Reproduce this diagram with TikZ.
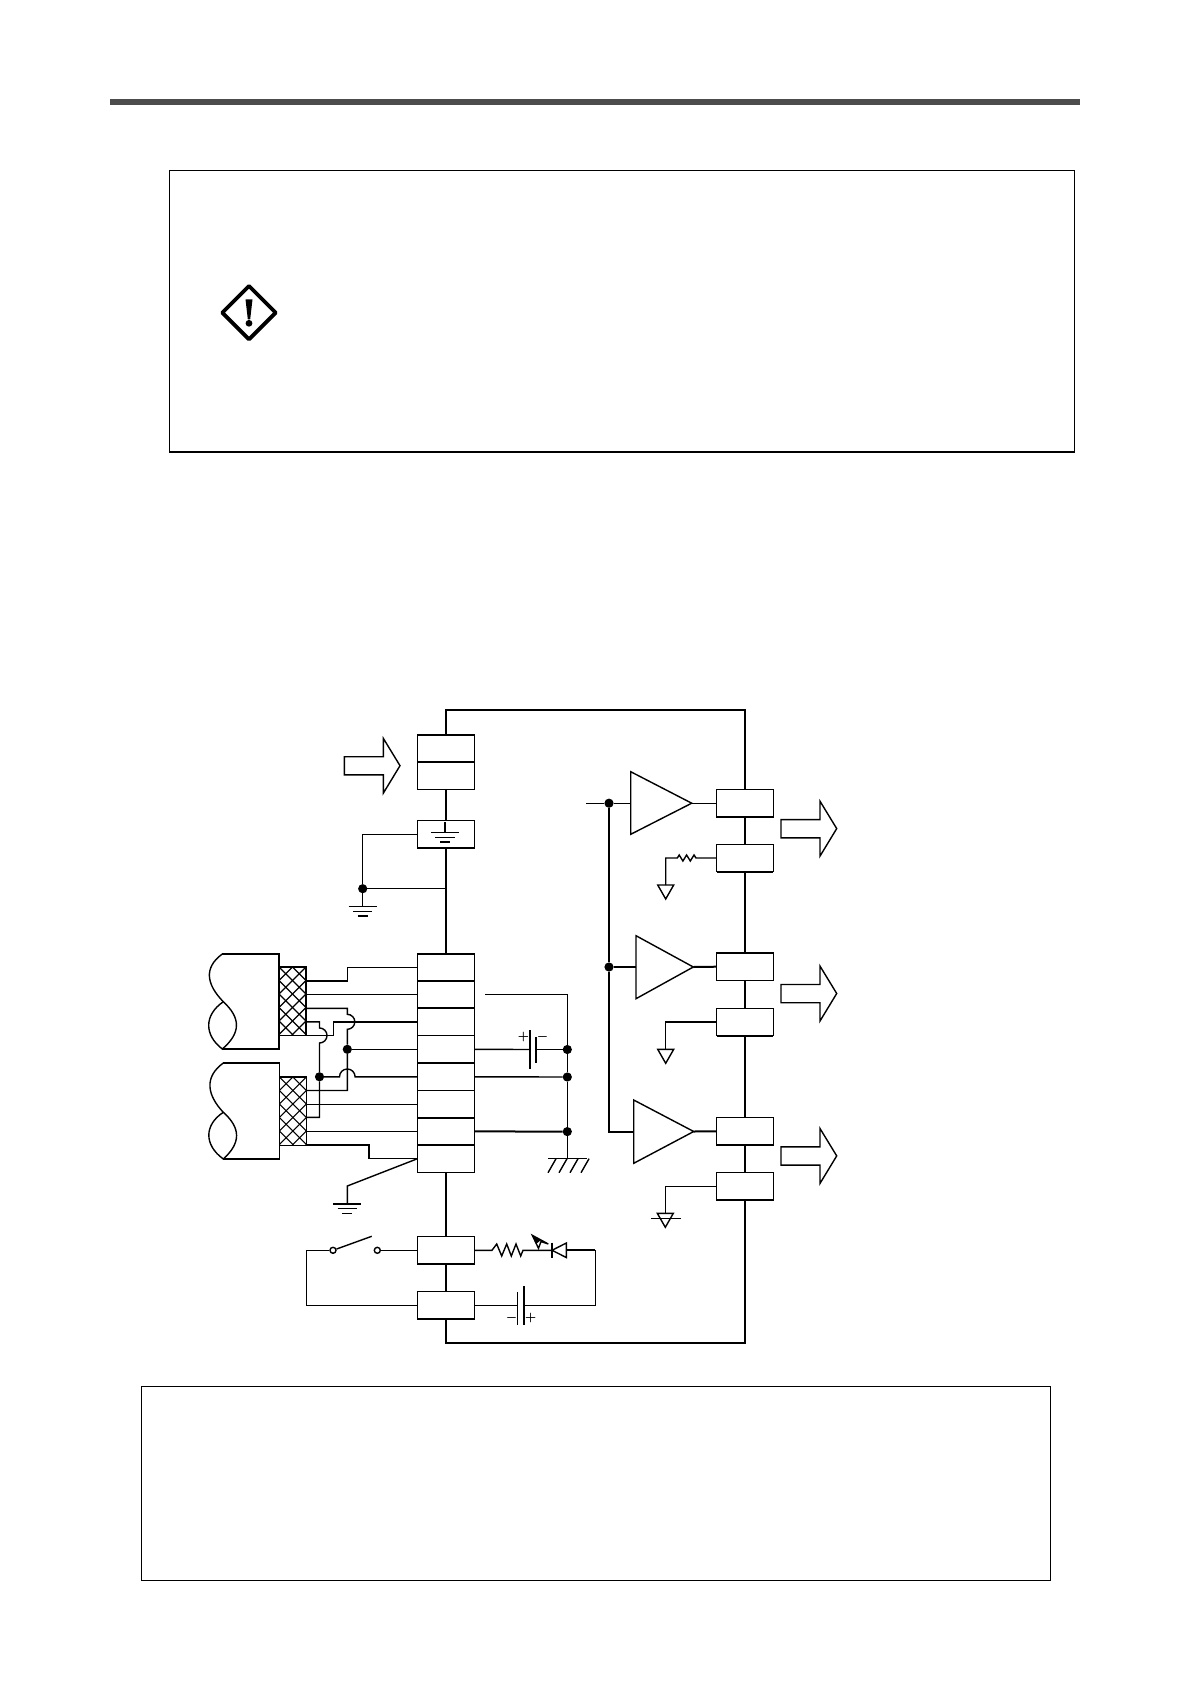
\documentclass[tikz,border=0pt]{standalone}
\tikzset{
	wire/.style={line width=0.7pt},
	bus/.style={line width=1pt},
	tbox/.style={draw,line width=0.7pt,minimum width=28.3pt,minimum height=13.7pt,inner sep=0pt,outer sep=0pt},
	dot/.style={circle,fill=black,inner sep=0pt,outer sep=0pt,minimum size=4.6pt},
	sign/.style={inner sep=0pt,font=\fontsize{4}{4}\selectfont\boldmath},
	fatarrow/.pic={
		\draw[wire] (-55.7,-9) -- (-16.7,-9) -- (-16.7,-27.4) -- (0,0) -- (-16.7,27.5) -- (-16.7,9.2) -- (-55.7,9.2) -- cycle;
	},
	gndbars/.pic={
		\draw[wire] (-14,0) -- (14,0);
		\draw[wire] (-9.7,4.6) -- (9.7,4.6);
		\draw[wire] (-5,9.3) -- (5,9.3);
	},
	gndtri/.pic={
		\draw[wire] (-8,0) -- (8,0) -- (0,14) -- cycle;
	},
	braid/.pic={
		\draw[wire] (0,0) rectangle (27,68.3);
		\begin{scope}
			\clip (0,0) rectangle (27,68.3);
			\foreach \k in {-6,...,2} {
				\draw[line width=0.55pt] (13.5*\k,0) -- ++(68.3,68.3);
				\draw[line width=0.55pt] (27-13.5*\k,0) -- ++(-68.3,68.3);
			}
		\end{scope}
	},
}
\begin{document}
\begin{tikzpicture}[x=0.5pt,y=-0.5pt]
\useasboundingbox (0,0) rectangle (1190,1684);
%========================================
% PAGE: header bar, note frames
%========================================
\fill[black!70] (110,99) rectangle (1080,105);
\draw[wire] (169.3,170.3) rectangle (1074.7,452);
\draw[wire] (141.3,1386.3) rectangle (1050.3,1580.7);
% Warning sign
\draw[line width=1.9pt,line join=round] (249,286) -- (275.7,312.7) -- (249,339.4) -- (222.3,312.7) -- cycle;
\fill (245.5,299.3) -- (252.5,299.3) -- (250.2,319.3) -- (247.8,319.3) -- cycle;
\fill (249,323.3) circle (1.7pt);

%========================================
% LEFT COLUMN: terminals on the bus
%========================================
\node[tbox] (tt1) at (446,748.8) {};
\node[tbox] (tt2) at (446,775.8) {};
\node[tbox] (tg) at (446,834.2) {};
\foreach \i/\y in {1/967.5,2/994.4,3/1021.8,4/1049.3,5/1076.8,6/1104.2,7/1131.4,8/1158.6}
	\node[tbox] (tc\i) at (446,\y) {};
\node[tbox] (tb1) at (446,1250.3) {};
\node[tbox] (tb2) at (446,1305.2) {};
%========================================
% RIGHT COLUMN: terminals on the bus
%========================================
\foreach \i/\y in {1/803.2,2/858,3/966.7,4/1022,5/1131.3,6/1186.2}
	\node[tbox] (to\i) at (745,\y) {};
% Heavier lower edges
\foreach \n in {tg,tc1,tc3,tb2,to1,to2,to3,to4,to6}
	\draw[line width=0.9pt] (\n.south west) -- (\n.south east);

% Bus
\draw[bus] (tt1.north) -- (446,710) -- (745,710) -- (to1.north);
\draw[bus] (tt2.south) -- (tg.north);
\draw[bus] (tg.south) -- (tc1.north);
\draw[bus] (tc8.south) -- (tb1.north);
\draw[bus] (tb1.south) -- (tb2.north);
\draw[bus] (tb2.south) -- (446,1343) -- (745,1343) -- (to6.south);
\draw[bus] (to1.south) -- (to2.north);
\draw[bus] (to2.south) -- (to3.north);
\draw[bus] (to3.south) -- (to4.north);
\draw[bus] (to4.south) -- (to5.north);
\draw[bus] (to5.south) -- (to6.north);

% Fat arrows
\pic at (400,765.7) {fatarrow};
\pic at (836.7,828.6) {fatarrow};
\pic at (836.7,993.5) {fatarrow};
\pic at (836.7,1155.9) {fatarrow};

% Ground on the bus
\coordinate (gs1) at (445,822);
\coordinate (gs2) at (445,832.7);
\draw[wire] (gs1) -- (gs2);
\pic at (gs2) {gndbars};
\node[dot] (d0) at (362.7,888.7) {};
\coordinate (g1) at (362.7,906.7);
\draw[wire] (tg.west) -| (d0);
\draw[wire] (d0) -- (d0 -| tg);
\draw[wire] (d0) -- (g1);
\pic at (g1) {gndbars};

%========================================
% CABLES: two shielded pairs
%========================================
\draw[wire] (222.3,954) -- (279,954) -- (279,1049) -- (222.3,1049);
\draw[wire] (222.3,954) .. controls (203,968) and (207,985) .. (223.3,1001.7)
	.. controls (241,1018) and (241,1033) .. (222.3,1049);
\draw[wire] (223.3,1001.7) .. controls (204,1015) and (204,1035) .. (222.3,1049);
\draw[wire] (223.3,1063) -- (279.3,1063) -- (279.3,1159) -- (223.3,1159);
\draw[wire] (223.3,1063) .. controls (204,1077) and (207,1095) .. (223.3,1112.3)
	.. controls (241,1128) and (241,1143) .. (223.3,1159);
\draw[wire] (223.3,1112.3) .. controls (204,1125) and (204,1145) .. (223.3,1159);
\pic at (279,967) {braid};
\pic at (279.3,1077) {braid};

% Ends of the conductors at the braid
\coordinate (wa1) at (306,981);
\coordinate (wa2) at (306,994.4);
\coordinate (wa3) at (306,1008.3);
\coordinate (wa4) at (306,1021.8);
\coordinate (wa5) at (306,1035.3);
\coordinate (wb1) at (306.7,1090.5);
\coordinate (wb2) at (306.7,1104.2);
\coordinate (wb3) at (306.7,1117.4);
\coordinate (wb4) at (306.7,1131.4);
\coordinate (wb5) at (306.7,1145);
\node[dot] (dj1) at (347.3,1049.3) {};
\node[dot] (dj2) at (319.5,1076.8) {};

\draw[wire] (wa1) -- (347.3,981) -- (347.3,967.5) -- (tc1.west);
\draw[wire] (wa2) -- (tc2.west);
\draw[wire] (wa3) -- (347.3,1008.3) -- (347.3,1014.3) arc[start angle=90,end angle=-90,radius=3.75pt] -- (dj1) -- (347.3,1090.5) -- (wb1);
\draw[wire] (wa4) -- (319.5,1021.8) -- (319.5,1028) arc[start angle=90,end angle=-90,radius=3.75pt] -- (dj2) -- (319.5,1117.4) -- (wb3);
\draw[wire] (wa5) -- (333.3,1035.3) -- (333.3,1021.8) -- (tc3.west);
\draw[wire] (dj1) -- (tc4.west);
\draw[wire] (dj2) -- (339.5,1076.8) arc[start angle=180,end angle=0,radius=3.9pt] -- (tc5.west);
\draw[wire] (wb2) -- (tc6.west);
\draw[wire] (wb4) -- (tc7.west);
\draw[wire] (wb5) -- (369,1145) -- (369,1158.6) -- (tc8.west);
% Ground below the cables
\coordinate (g2) at (347.3,1204);
\draw[wire] (tc8.west) -- (347.3,1186) -- (g2);
\pic at (g2) {gndbars};

%========================================
% BATTERY AND CHASSIS next to the cables
%========================================
\coordinate (rs) at (485,994.4);
\node[dot] (dr1) at (567.3,1049.5) {};
\node[dot] (dr2) at (567.3,1077) {};
\node[dot] (dr3) at (567.3,1131.6) {};
\coordinate (ch) at (567.3,1158.7);
\coordinate (ba1) at (530,1049.5);
\coordinate (ba2) at (536,1049.5);
\draw[wire] (rs) -- (567.3,994.4) -- (dr1) -- (dr2) -- (dr3) -- (ch);
\draw[wire] (tc4.east) -- (ba1);
\draw[wire] (ba2) -- (dr1);
\draw[wire] (tc5.east) -- (dr2);
\draw[bus] (tc7.east) -- (dr3);
\draw[wire] (530,1030) -- (530,1068.7);
\draw[wire] (536,1037.3) -- (536,1062.7);
\node[sign] (bp) at (523.3,1036.7) {$+$};
\node[sign] (bm) at (542.7,1036.7) {$-$};
\draw[wire] (548,1158.7) -- (587.3,1158.7);
\foreach \k in {0,1,2,3}
	\draw[wire] (548+11*\k,1172.7) -- (556+11*\k,1158.7);

%========================================
% AMPLIFIERS
%========================================
\coordinate (rs2) at (586,803.2);
\node[dot] (ds1) at (609,803.2) {};
\node[dot] (ds2) at (609,967) {};
\coordinate (ds3) at (609,1131.5);
\coordinate (a1i) at (630.7,803.2);
\coordinate (a1o) at (691.7,803.2);
\coordinate (a2i) at (636,967);
\coordinate (a2o) at (693.3,967);
\coordinate (a3i) at (633.7,1131.5);
\coordinate (a3o) at (693.7,1131.5);
\draw[wire] (630.7,771.7) -- (630.7,834.3) -- (a1o) -- cycle;
\draw[wire] (636,935.7) -- (636,998.7) -- (a2o) -- cycle;
\draw[wire] (633.7,1100) -- (633.7,1163.3) -- (a3o) -- cycle;
\draw[wire] (rs2) -- (ds1) -- (a1i);
\draw[bus] (ds1) -- (ds2) -- (ds3) -- (a3i);
\draw[bus] (ds2) -- (a2i);
\draw[wire] (a1o) -- (to1.west);
\draw[bus] (a2o) -- (to3.west);
\draw[bus] (a3o) -- (to5.west);

% Returns of the outputs
\coordinate (tr1) at (665.7,885);
\coordinate (tr2) at (665.7,1049.3);
\coordinate (tr3) at (665.3,1213.3);
\draw[wire] (to2.west) -- (696,858) -- (694,855) -- (690.3,861) -- (686.6,855) -- (682.9,861) -- (679.2,855) -- (677.3,858) -- (665.7,858) -- (tr1);
\draw[wire] (to4.west) -| (tr2);
\draw[wire] (to6.west) -| (tr3);
\pic at (tr1) {gndtri};
\pic at (tr2) {gndtri};
\pic at (tr3) {gndtri};
\draw[wire] (651,1218.3) -- (680.7,1218.3);

%========================================
% SWITCH, LED, BATTERY in the lower loop
%========================================
\node[circle,draw,line width=0.7pt,inner sep=0pt,minimum size=3pt] (sw1) at (333,1250.3) {};
\node[circle,draw,line width=0.7pt,inner sep=0pt,minimum size=3pt] (sw2) at (377.3,1250.3) {};
\coordinate (blade) at (371.7,1236.3);
\coordinate (le) at (552,1250.3);
\coordinate (corner) at (595.3,1305.2);
\draw[wire] (sw1) -- (blade);
\draw[wire] (sw2) -- (tb1.west);
\draw[wire] (sw1) -- (306.7,1250.3) -- (306.7,1305.2) -- (tb2.west);
\draw[wire] (tb1.east) -- (492,1250.3) -- (496.7,1244) -- (501.7,1256) -- (506.7,1244) -- (511.3,1256) -- (516,1244) -- (520.7,1256) -- (523,1250.3) -- (le);
\draw[line width=0.8pt] (552,1242.7) -- (552,1257.8);
\draw[wire] (le) -- (566.3,1243) -- (566.3,1257.5) -- cycle;
\draw[bus] (566.3,1250.3) -- (595.3,1250.3);
\draw[wire] (595.3,1250.3) -- (corner) -- (524,1305.2);
\draw[wire] (tb2.east) -- (517.7,1305.2);
\draw[wire] (517.7,1292) -- (517.7,1324.5);
\draw[bus] (524,1286) -- (524,1324.7);
\node[sign] (bm2) at (511.7,1318.3) {$-$};
\node[sign] (bp2) at (530.7,1318.3) {$+$};
% Light of the LED
\draw[wire] (532.3,1235.3) -- (538.5,1248.3) -- (541,1241.5) -- (548.3,1244) -- cycle;
\fill (532.3,1235.3) -- (536,1244) -- (541,1240) -- cycle;

\end{tikzpicture}
\end{document}
